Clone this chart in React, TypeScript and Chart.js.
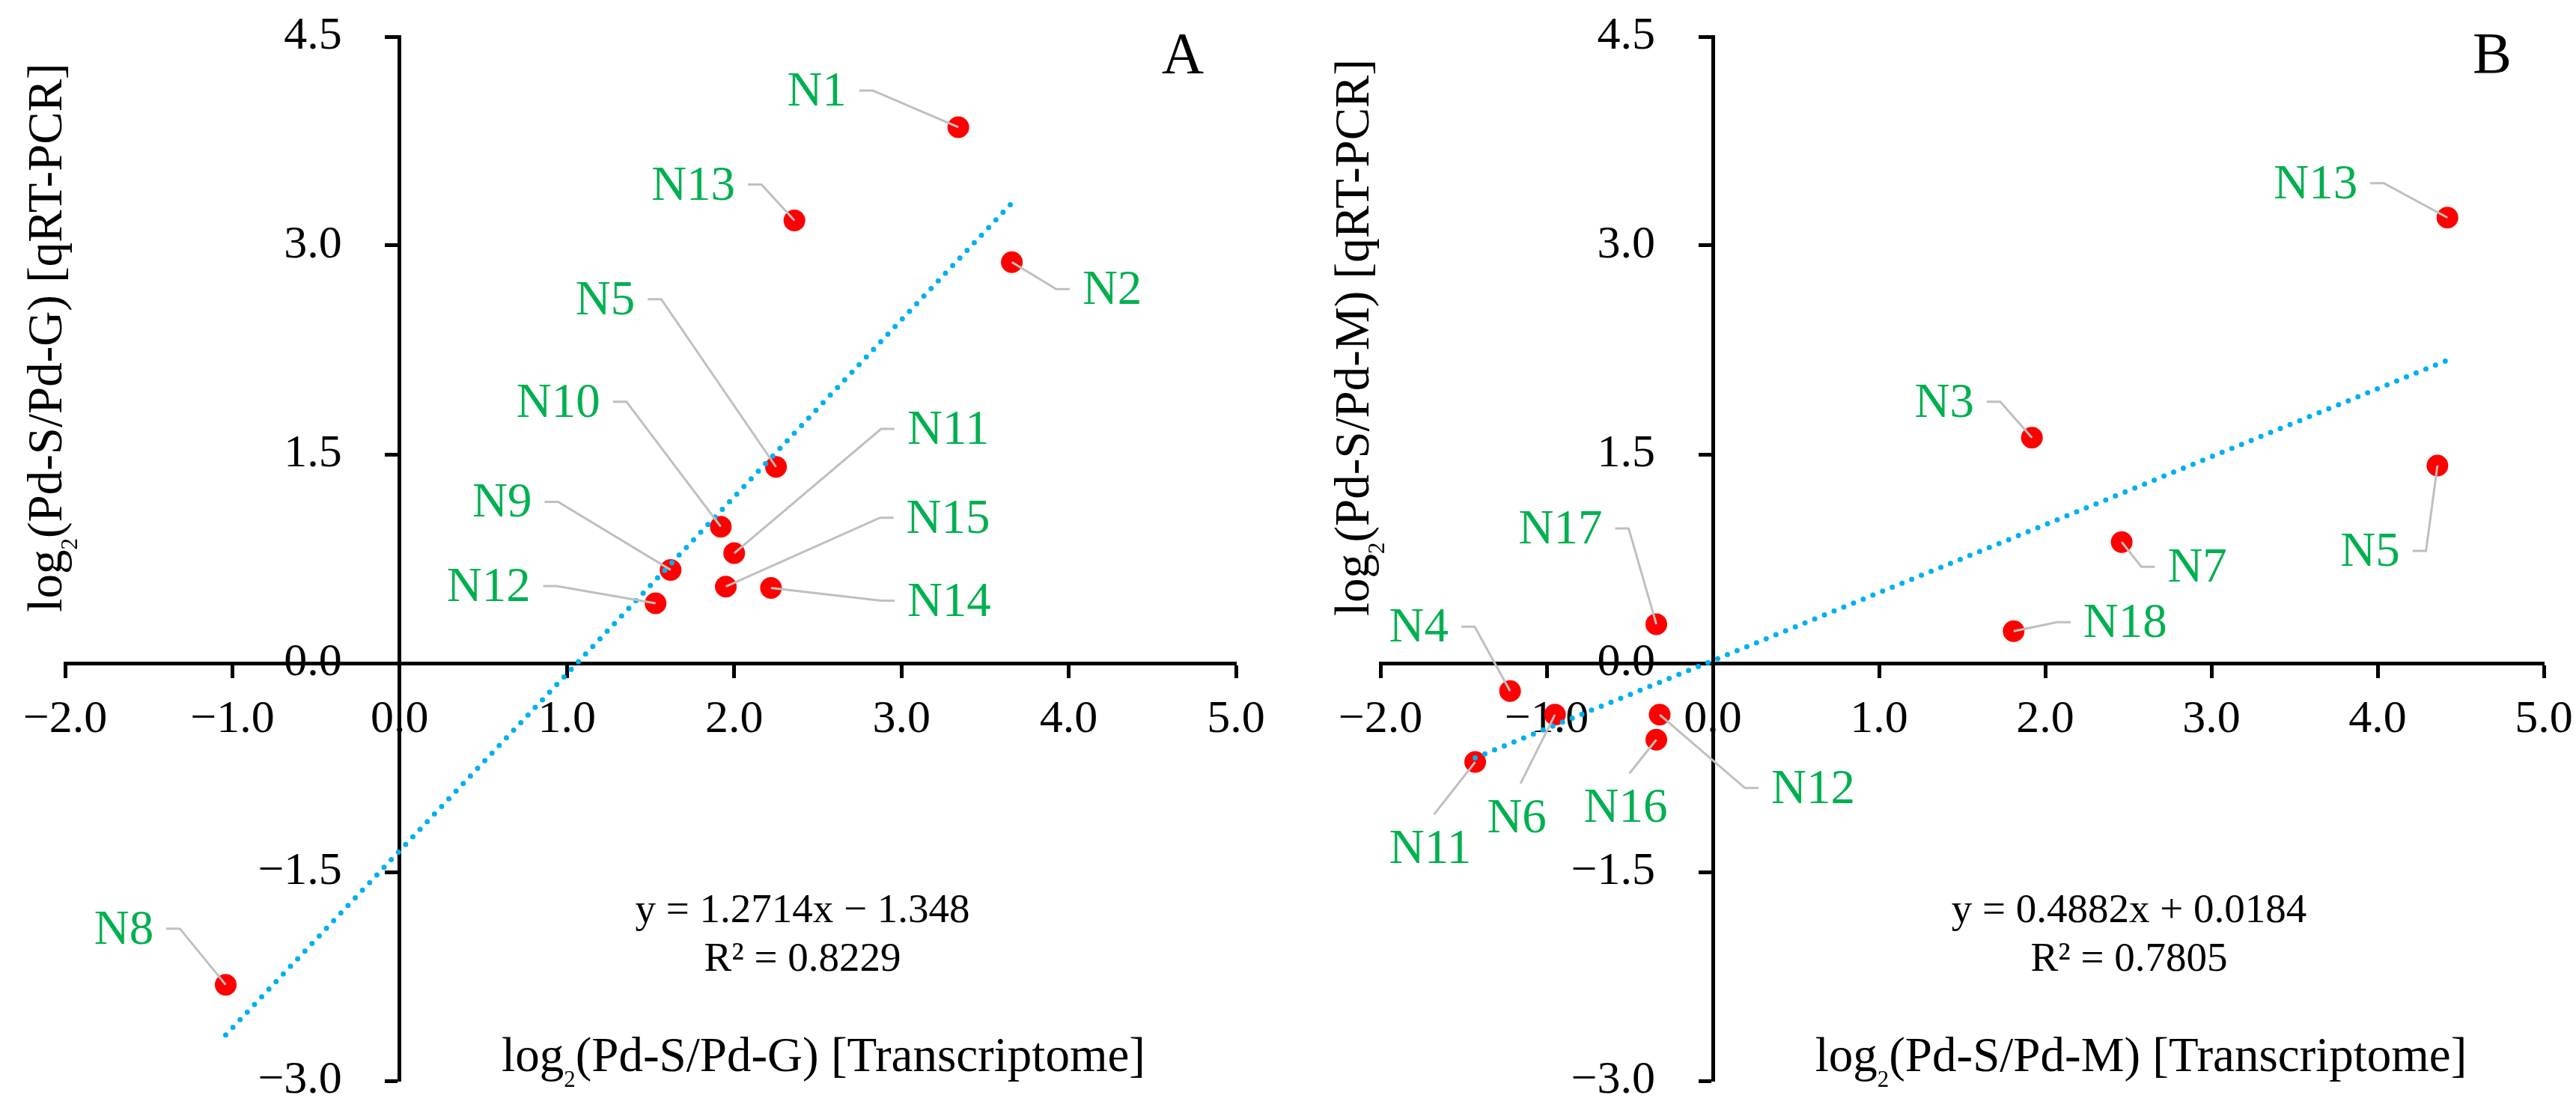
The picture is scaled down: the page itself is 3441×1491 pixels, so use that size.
import React, { useEffect, useRef } from 'react';
import Chart from 'chart.js/auto';

// shared axis ticks
const xTicks = [-2, -1, 0, 1, 2, 3, 4, 5];
const yTicks = [-3, -1.5, 0, 1.5, 3, 4.5];

// panel A: Pd-S vs Pd-G
const genesA = ['N1', 'N13', 'N2', 'N5', 'N10', 'N11', 'N9', 'N15', 'N14', 'N12', 'N8'];
const transcriptomeA = [3.34, 2.36, 3.66, 2.25, 1.92, 2.0, 1.62, 1.95, 2.22, 1.53, -1.04];
const qpcrA = [3.85, 3.18, 2.88, 1.41, 0.98, 0.79, 0.67, 0.55, 0.54, 0.43, -2.31];
const fitA = [1.2714, -1.348];
const r2A = 0.8229;

// panel B: Pd-S vs Pd-M
const genesB = ['N13', 'N3', 'N5', 'N7', 'N18', 'N17', 'N4', 'N6', 'N12', 'N16', 'N11'];
const transcriptomeB = [4.42, 1.92, 4.36, 2.46, 1.81, -0.34, -1.22, -0.95, -0.32, -0.34, -1.43];
const qpcrB = [3.2, 1.62, 1.42, 0.87, 0.23, 0.28, -0.2, -0.37, -0.37, -0.55, -0.71];
const fitB = [0.4882, 0.0184];
const r2B = 0.7805;

// label text centre as px offset from its marker, and the side the text sits on
type LabelPos = [number, number, 'left' | 'right' | 'below'];
const labelPosA: LabelPos[] = [
  [-189, -46, 'left'], [-135, -45, 'left'], [134, 39, 'right'], [-228, -221, 'left'],
  [-217, -164, 'left'], [286, -163, 'right'], [-225, -88, 'left'], [297, -89, 'right'],
  [238, 20, 'right'], [-223, -20, 'left'], [-136, -72, 'left'],
];
const labelPosB: LabelPos[] = [
  [-176, -43, 'left'], [-117, -45, 'left'], [-90, 117, 'left'], [101, 36, 'right'],
  [149, -9, 'right'], [-128, -125, 'left'], [-122, -83, 'left'], [-51, 140, 'below'],
  [205, 101, 'right'], [-41, 93, 'below'], [-60, 118, 'below'],
];

const SERIF = '"Liberation Serif", "Times New Roman", serif';
const font = (px: number) => `${px}px ${SERIF}`;
const num = (v: number) => (v < 0 ? '\u2212' : '') + Math.abs(v).toFixed(1);

document.body.style.margin = '0';

interface Frame {
  left: number;
  width: number;
  pad: { left: number; right: number; top: number; bottom: number };
  yTitleX: number;
  xTitleX: number;
  eqX: number;
  letterX: number;
}

interface PanelProps {
  letter: string;
  ratio: string;
  genes: string[];
  xs: number[];
  ys: number[];
  fit: number[];
  r2: number;
  labels: LabelPos[];
  frame: Frame;
}

// "log2(ratio) [tail]" with a subscript 2, centred on cx
function drawLog2(ctx: CanvasRenderingContext2D, ratio: string, tail: string, cx: number, base: number) {
  const head = 'log';
  const rest = `(${ratio}) [${tail}]`;
  ctx.font = font(65);
  const wHead = ctx.measureText(head).width;
  const wRest = ctx.measureText(rest).width;
  ctx.font = font(31);
  const wSub = ctx.measureText('2').width;
  let x = cx - (wHead + wSub + wRest) / 2;
  ctx.textAlign = 'left';
  ctx.textBaseline = 'alphabetic';
  ctx.font = font(65);
  ctx.fillText(head, x, base);
  x += wHead;
  ctx.font = font(31);
  ctx.fillText('2', x, base + 21);
  x += wSub;
  ctx.font = font(65);
  ctx.fillText(rest, x, base);
}

const Panel: React.FC<PanelProps> = (props) => {
  const canvasRef = useRef<HTMLCanvasElement>(null);

  useEffect(() => {
    if (!canvasRef.current) return;
    const { letter, ratio, genes, xs, ys, fit, r2, labels, frame } = props;
    const [slope, intercept] = fit;
    const lo = Math.min(...xs);
    const hi = Math.max(...xs);

    const decorate = {
      id: 'decorate',
      beforeDatasetsDraw(chart: any) {
        const { ctx, scales } = chart;
        const sx = scales.x;
        const sy = scales.y;
        const x0 = sx.getPixelForValue(0);
        const y0 = sy.getPixelForValue(0);
        ctx.save();
        ctx.fillStyle = '#000';
        ctx.font = font(62);
        ctx.textBaseline = 'middle';
        ctx.textAlign = 'center';
        sx.ticks.forEach((t: any) => ctx.fillText(num(t.value), sx.getPixelForValue(t.value), y0 + 76));
        ctx.textAlign = 'right';
        sy.ticks.forEach((t: any) => ctx.fillText(num(t.value), x0 - 77, sy.getPixelForValue(t.value)));

        // axis titles
        drawLog2(ctx, ratio, 'Transcriptome', frame.xTitleX, 1431);
        ctx.save();
        ctx.translate(frame.yTitleX, 451);
        ctx.rotate(-Math.PI / 2);
        drawLog2(ctx, ratio, 'qRT-PCR', 0, 0);
        ctx.restore();

        // trendline equation
        ctx.font = font(55);
        ctx.textAlign = 'center';
        ctx.textBaseline = 'alphabetic';
        const sign = intercept < 0 ? '\u2212' : '+';
        ctx.fillText(`y = ${slope}x ${sign} ${Math.abs(intercept)}`, frame.eqX, 1232);
        ctx.fillText(`R\u00B2 = ${r2}`, frame.eqX, 1297);

        ctx.font = font(78);
        ctx.textBaseline = 'middle';
        ctx.fillText(letter, frame.letterX, 77);
        ctx.restore();
      },
      afterDatasetsDraw(chart: any) {
        const { ctx, scales } = chart;
        ctx.save();
        ctx.font = font(65);
        ctx.textAlign = 'center';
        ctx.textBaseline = 'middle';
        ctx.strokeStyle = '#BFBFBF';
        ctx.lineWidth = 3;
        ctx.fillStyle = '#00B050';
        genes.forEach((g, i) => {
          const px = scales.x.getPixelForValue(xs[i]);
          const py = scales.y.getPixelForValue(ys[i]);
          const [dx, dy, side] = labels[i];
          const cx = px + dx;
          const cy = py + dy;
          const w = ctx.measureText(g).width;
          ctx.beginPath();
          if (side === 'below') {
            ctx.moveTo(cx + 5, cy - 48);
          } else {
            const dir = side === 'left' ? 1 : -1;
            const s = cx + dir * (w / 2 + 17);
            ctx.moveTo(s, cy - 3);
            ctx.lineTo(s + dir * 18, cy - 3);
          }
          ctx.lineTo(px, py);
          ctx.stroke();
          ctx.fillText(g, cx, cy);
        });
        ctx.restore();
      },
    };

    const axis = (ticks: number[], min: number, max: number, cross: object) => ({
      type: 'linear' as const,
      min,
      max,
      position: cross,
      afterBuildTicks: (scale: any) => {
        scale.ticks = ticks.map((value) => ({ value }));
      },
      ticks: { display: false },
      grid: { drawOnChartArea: false, drawTicks: true, tickLength: 17, tickWidth: 5, tickColor: '#000' },
      border: { color: '#000', width: 5 },
    });

    const chart = new Chart(canvasRef.current, {
      type: 'scatter',
      data: {
        datasets: [
          {
            data: [
              { x: lo, y: slope * lo + intercept },
              { x: hi, y: slope * hi + intercept },
            ],
            showLine: true,
            borderColor: '#00B0F0',
            borderWidth: 7,
            borderDash: [0, 14],
            borderCapStyle: 'round',
            pointRadius: 0,
          },
          {
            data: xs.map((x, i) => ({ x, y: ys[i] })),
            backgroundColor: '#FF0000',
            borderColor: '#FF0000',
            pointRadius: 14.5,
            pointBorderWidth: 0,
            pointHoverRadius: 14.5,
          },
        ],
      },
      options: {
        animation: false,
        responsive: true,
        maintainAspectRatio: false,
        events: [],
        layout: { padding: frame.pad },
        plugins: { legend: { display: false }, tooltip: { enabled: false } },
        scales: {
          x: axis(xTicks, -2, 5, { y: 0 }),
          y: axis(yTicks, -3, 4.5, { x: 0 }),
        } as any,
      },
      plugins: [decorate],
    });

    return () => {
      chart.destroy();
    };
  }, []);

  const { frame } = props;
  return (
    <div style={{ position: 'absolute', left: frame.left, top: 0, width: frame.width, height: 1491 }}>
      <canvas ref={canvasRef}></canvas>
    </div>
  );
};

const frameA: Frame = {
  left: 0,
  width: 1720,
  pad: { left: 87, right: 69, top: 49, bottom: 47 },
  yTitleX: 82,
  xTitleX: 1100,
  eqX: 1072,
  letterX: 1580,
};

const frameB: Frame = {
  left: 1720,
  width: 1721,
  pad: { left: 124, right: 43, top: 49, bottom: 47 },
  yTitleX: 108,
  xTitleX: 1140,
  eqX: 1124,
  letterX: 1609,
};

export default function App() {
  return (
    <div style={{ position: 'relative', width: 3441, height: 1491, background: '#fff', overflow: 'hidden' }}>
      <Panel letter="A" ratio="Pd-S/Pd-G" genes={genesA} xs={transcriptomeA} ys={qpcrA} fit={fitA} r2={r2A} labels={labelPosA} frame={frameA} />
      <Panel letter="B" ratio="Pd-S/Pd-M" genes={genesB} xs={transcriptomeB} ys={qpcrB} fit={fitB} r2={r2B} labels={labelPosB} frame={frameB} />
    </div>
  );
}
